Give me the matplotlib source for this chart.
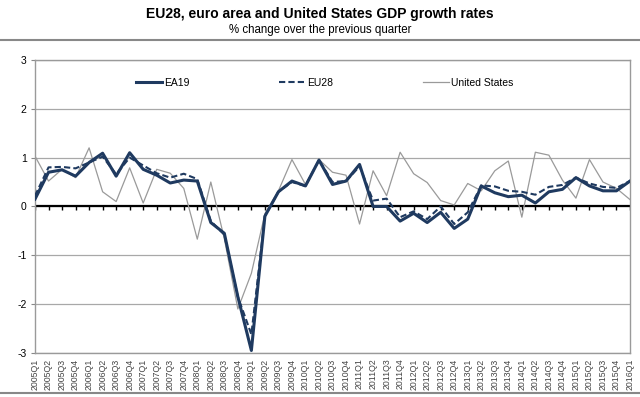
import matplotlib
matplotlib.use("Agg")
import matplotlib.pyplot as plt
from matplotlib.lines import Line2D

plt.rcParams['font.family'] = ['Liberation Sans', 'DejaVu Sans']

# quarters 2005Q1 .. 2016Q1
quarters = [f"{y}Q{q}" for y in range(2005, 2017) for q in range(1, 5)][:45]

ea19 = [0.15, 0.70, 0.75, 0.62, 0.90, 1.09, 0.62, 1.10, 0.76, 0.64,
        0.48, 0.54, 0.52, -0.33, -0.55, -1.85, -2.95, -0.20, 0.30, 0.52,
        0.42, 0.95, 0.45, 0.52, 0.86, 0.00, 0.00, -0.30, -0.14, -0.33,
        -0.12, -0.45, -0.26, 0.42, 0.28, 0.20, 0.23, 0.07, 0.30, 0.35,
        0.59, 0.42, 0.32, 0.32, 0.52]

eu28 = [0.22, 0.80, 0.81, 0.78, 0.90, 1.02, 0.66, 1.00, 0.84, 0.68,
        0.59, 0.67, 0.56, -0.30, -0.58, -1.85, -2.62, -0.20, 0.30, 0.50,
        0.42, 0.95, 0.50, 0.52, 0.82, 0.12, 0.16, -0.22, -0.10, -0.26,
        0.00, -0.36, -0.12, 0.43, 0.41, 0.32, 0.30, 0.24, 0.40, 0.44,
        0.59, 0.47, 0.40, 0.38, 0.52]

us = [1.03, 0.52, 0.76, 0.59, 1.20, 0.30, 0.10, 0.79, 0.07, 0.76,
      0.68, 0.37, -0.67, 0.50, -0.66, -2.10, -1.37, -0.15, 0.32, 0.96,
      0.45, 0.96, 0.70, 0.64, -0.36, 0.73, 0.22, 1.11, 0.67, 0.49,
      0.12, 0.03, 0.47, 0.32, 0.73, 0.93, -0.22, 1.11, 1.05, 0.54,
      0.17, 0.96, 0.50, 0.37, 0.14]

navy = '#1f3a60'
x = list(range(len(quarters)))

fig = plt.figure(figsize=(6.4, 3.97), dpi=100)
ax = fig.add_axes([0.0547, 0.111, 0.9297, 0.738])

ax.plot(x, us, color='#9a9a9a', lw=0.9, label='United States', zorder=2)
ax.plot(x, eu28, color=navy, lw=1.5, ls=(0, (3, 1.5)), label='EU28', zorder=3)
ax.plot(x, ea19, color=navy, lw=2.2, label='EA19', zorder=4)

ax.set_xlim(0, len(quarters) - 1)
ax.set_ylim(-3, 3)
ax.set_yticks([-3, -2, -1, 0, 1, 2, 3])
ax.set_yticklabels(['-3', '-2', '-1', '0', '1', '2', '3'])
ax.grid(axis='y', color='#a8a8a8', lw=0.9)
ax.set_axisbelow(True)

ax.set_xticks(x)
ax.set_xticklabels(quarters, rotation=90, fontsize=6.3, color='#444444')
ax.tick_params(axis='x', length=0, pad=4)
ax.tick_params(axis='y', length=3, color='#888888', labelsize=7.5, pad=3)
for s in ax.spines.values():
    s.set_color('#9a9a9a')
    s.set_linewidth(1.0)

# black zero line with a small tick at every quarter
ax.axhline(0, color='black', lw=1.6, zorder=1.5)
ax.vlines(x, -0.07, 0, color='black', lw=1.0, zorder=1.5)

handles, labels = ax.get_legend_handles_labels()
order = [2, 1, 0]
ax.legend([handles[i] for i in order], [labels[i] for i in order],
          loc='upper center', bbox_to_anchor=(0.487, 0.97), ncol=3,
          frameon=False, fontsize=7.5, columnspacing=8.6, handlelength=2.5,
          handletextpad=0.2)

fig.text(0.5, 0.965, 'EU28, euro area and United States GDP growth rates',
         ha='center', va='center', fontsize=10, fontweight='bold')
fig.text(0.5, 0.925, '% change over the previous quarter',
         ha='center', va='center', fontsize=8.3)

fig.add_artist(Line2D([0, 1], [0.899, 0.899], color='#888888', lw=1.5,
                      transform=fig.transFigure))
fig.add_artist(Line2D([0, 1], [0.01, 0.01], color='#888888', lw=1.5,
                      transform=fig.transFigure))

fig.savefig('out.png', dpi=100)
